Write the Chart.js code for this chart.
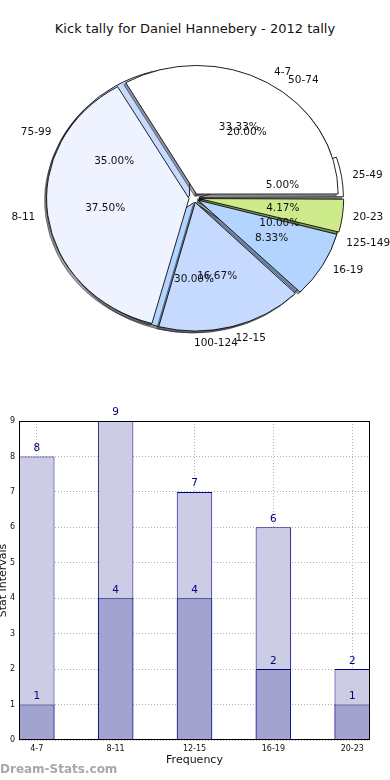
<!DOCTYPE html>
<html>
<head>
<meta charset="utf-8">
<script src="https://cdn.jsdelivr.net/npm/chart.js@4.4.1/dist/chart.umd.min.js"></script>
<style>
	html, body { margin: 0; padding: 0; background: #fff; }
	#page { position: relative; width: 390px; height: 780px; overflow: hidden; font-family: 'DejaVu Sans', sans-serif; }
	#title { position: absolute; top: 21px; left: 0; width: 390px; text-align: center; font-size: 13px; color: #111; }
	canvas { position: absolute; left: 0; }
</style>
</head>
<body>
<div id="page">
	<div id="title">Kick tally for Daniel Hannebery - 2012 tally</div>
	<canvas id="pieStat" width="390" height="380" style="top:0"></canvas>
	<canvas id="pieKick" width="390" height="380" style="top:0"></canvas>
	<canvas id="bars" width="390" height="400" style="top:380px"></canvas>
</div>
<script>
const kickCats = ['4-7', '8-11', '12-15', '16-19', '20-23'];
const kickCounts = [8, 9, 4, 2, 1];
const statCats = ['25-49', '50-74', '75-99', '100-124', '125-149'];
const statCounts = [1, 4, 7, 6, 2];
const barTotals = [8, 9, 7, 6, 2];
const barLower = [1, 4, 4, 2, 1];
const yTicks = [0, 1, 2, 3, 4, 5, 6, 7, 8, 9];

const pieColors = ['#ffffff', '#eef3ff', '#c6d9ff', '#b3d4ff', '#cdeb8b'];
const SQUASH = 128 / 141; // pie is drawn a bit flattened

Chart.defaults.font.family = "'DejaVu Sans', sans-serif";

// squash the pie vertically + draw a gray shadow under the wedges
const ellipse = {
	id: 'ellipse',
	beforeDatasetsDraw(chart) {
		const ctx = chart.ctx;
		const arcs = chart.getDatasetMeta(0).data;
		const cx = arcs[0].x, cy = arcs[0].y;
		ctx.save();
		ctx.translate(cx, cy);
		ctx.scale(1, SQUASH);
		ctx.translate(-cx, -cy);
		ctx.save();
		ctx.translate(-2, 2 / SQUASH);
		ctx.filter = 'brightness(0.3) opacity(0.5)';
		arcs.forEach(a => a.draw(ctx));
		ctx.restore();
	},
	afterDatasetsDraw(chart) {
		chart.ctx.restore();
	}
};

function pieLabels(chart, ctx) {
	const meta = chart.getDatasetMeta(0);
	const vals = chart.data.datasets[0].data;
	const total = vals.reduce((a, b) => a + b, 0);
	meta.data.forEach((arc, i) => {
		const p = arc.getProps(['x', 'y', 'startAngle', 'endAngle', 'outerRadius'], true);
		const mid = (p.startAngle + p.endAngle) / 2;
		const c = Math.cos(mid), s = Math.sin(mid);
		const off = arc.options.offset / 4; // chart.js moves arcs by offset/4
		const r1 = 1.1 * p.outerRadius + off;
		const r2 = 0.6 * p.outerRadius + off;
		ctx.textAlign = c > -1e-6 ? 'left' : 'right';
		ctx.fillText(chart.data.labels[i], p.x + r1 * c, p.y + r1 * s * SQUASH);
		ctx.textAlign = 'center';
		ctx.fillText((vals[i] / total * 100).toFixed(2) + '%', p.x + r2 * c, p.y + r2 * s * SQUASH);
	});
}

// matplotlib goes counter-clockwise from 3 o'clock, chart.js clockwise -> reverse
function makePie(id, labels, values, extra) {
	const rev = a => a.slice().reverse();
	return new Chart(document.getElementById(id), {
		type: 'pie',
		data: {
			labels: rev(labels),
			datasets: [{
				data: rev(values),
				backgroundColor: rev(pieColors),
				borderColor: '#000',
				borderWidth: 0.9,
				offset: 20
			}]
		},
		options: {
			responsive: false,
			animation: false,
			rotation: 90,
			radius: 141,
			layout: { padding: { left: 0, right: 2, top: 16, bottom: 0 } },
			plugins: { legend: { display: false }, tooltip: { enabled: false } }
		},
		plugins: extra ? [ellipse, extra] : [ellipse]
	});
}

const statPie = makePie('pieStat', statCats, statCounts);
makePie('pieKick', kickCats, kickCounts, {
	id: 'allLabels',
	afterDraw(chart) {
		const ctx = chart.ctx;
		ctx.save();
		ctx.font = "10.5px 'DejaVu Sans'";
		ctx.fillStyle = '#111';
		ctx.textBaseline = 'middle';
		pieLabels(statPie, ctx);
		pieLabels(chart, ctx);
		ctx.restore();
	}
});

const barDecor = {
	id: 'barDecor',
	afterDatasetsDraw(chart) {
		const ctx = chart.ctx;
		ctx.save();
		ctx.font = "10.5px 'DejaVu Sans'";
		ctx.fillStyle = '#000080';
		ctx.textAlign = 'center';
		ctx.textBaseline = 'bottom';
		chart.data.datasets.forEach((ds, di) => {
			chart.getDatasetMeta(di).data.forEach((bar, i) => {
				ctx.fillText(ds.data[i].y, bar.x, bar.y - 3);
			});
		});
		ctx.restore();
	},
	afterDraw(chart) {
		const ctx = chart.ctx;
		const a = chart.chartArea;
		ctx.save();
		ctx.strokeStyle = '#000';
		ctx.lineWidth = 1;
		ctx.strokeRect(a.left + 0.5, a.top + 0.5, a.width - 1, a.height - 1);
		ctx.fillStyle = '#111';
		ctx.font = "11px 'DejaVu Sans'";
		ctx.textAlign = 'center';
		ctx.textBaseline = 'middle';
		ctx.fillText('Frequency', (a.left + a.right) / 2, 380);
		ctx.translate(3, (a.top + a.bottom) / 2);
		ctx.rotate(-Math.PI / 2);
		ctx.fillText('Stat Intervals', 0, 0);
		ctx.restore();
		ctx.save();
		ctx.font = "bold 12px 'DejaVu Sans'";
		ctx.fillStyle = '#a8a8a8';
		ctx.textBaseline = 'middle';
		ctx.fillText('Dream-Stats.com', 0, 390);
		ctx.restore();
	}
};

const gridStyle = { color: '#b0b0b0', drawTicks: false, offset: false };

new Chart(document.getElementById('bars'), {
	type: 'bar',
	data: {
		datasets: [
			{
				data: barLower.map((v, i) => ({ x: i, y: v })),
				backgroundColor: '#a3a3d0',
				borderColor: '#000080',
				borderWidth: 1,
				grouped: false,
				barPercentage: 0.45,
				categoryPercentage: 1,
				order: 1
			},
			{
				data: barTotals.map((v, i) => ({ x: i, y: v })),
				backgroundColor: '#ccccE4',
				borderColor: '#000080',
				borderWidth: 1,
				grouped: false,
				barPercentage: 0.45,
				categoryPercentage: 1,
				order: 2
			}
		]
	},
	options: {
		responsive: false,
		animation: false,
		layout: { padding: { left: 0, right: 20, top: 41, bottom: 0 } },
		plugins: { legend: { display: false }, tooltip: { enabled: false } },
		scales: {
			x: {
				type: 'linear',
				min: -0.225,
				max: 4.225,
				offset: false,
				z: 1,
				afterBuildTicks: s => { s.ticks = kickCats.map((c, i) => ({ value: i })); },
				afterFit: s => { s.height = 40; },
				ticks: {
					callback: v => kickCats[v],
					font: { size: 8 },
					color: '#111',
					padding: 4,
					maxRotation: 0
				},
				grid: gridStyle,
				border: { display: false, dash: [1, 2] }
			},
			y: {
				min: 0,
				max: 9,
				z: 1,
				afterBuildTicks: s => { s.ticks = yTicks.map(v => ({ value: v })); },
				afterFit: s => { s.width = 19; },
				ticks: { font: { size: 8 }, color: '#111', padding: 4 },
				grid: gridStyle,
				border: { display: false, dash: [1, 2] }
			}
		}
	},
	plugins: [barDecor]
});
</script>
</body>
</html>
